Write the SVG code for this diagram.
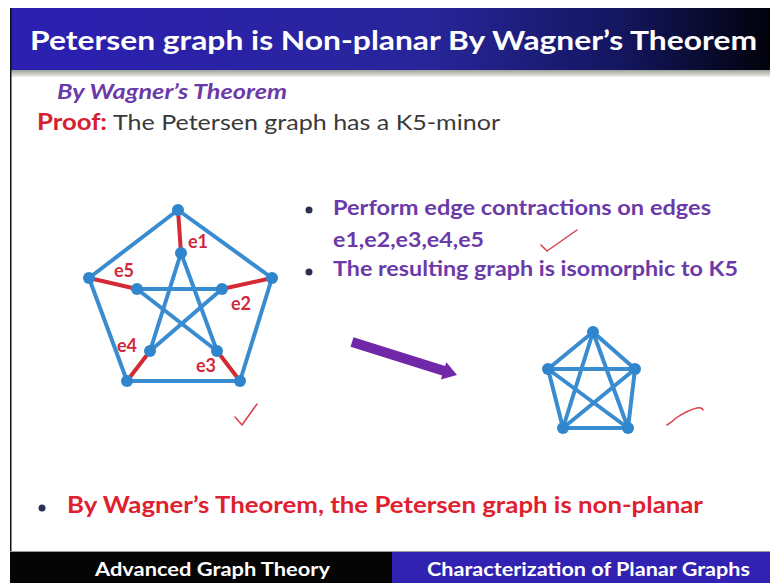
<svg xmlns="http://www.w3.org/2000/svg" width="770" height="583" viewBox="0 0 770 583">
<defs>
<linearGradient id="hdr" x1="0" y1="0" x2="1" y2="0">
<stop offset="0" stop-color="#2c1fb2"/>
<stop offset="0.55" stop-color="#28259a"/>
<stop offset="0.8" stop-color="#141660"/>
<stop offset="1" stop-color="#02020c"/>
</linearGradient>
<linearGradient id="strip" x1="0" y1="0" x2="0" y2="1">
<stop offset="0" stop-color="#9aa29a"/>
<stop offset="1" stop-color="#eef0ea"/>
</linearGradient>
<style>
.t{font-family:Lato,"Liberation Sans",sans-serif}
.e{stroke:#3a8cd0;stroke-width:4;stroke-linecap:round}
.r{stroke:#d42a34;stroke-width:4;stroke-linecap:round}
.v{fill:#2f86cc}
.lbl{font-family:Lato,"Liberation Sans",sans-serif;font-size:18px;font-weight:bold;fill:#d02a3a}
.chk{fill:none;stroke:#d8404a;stroke-width:1.5;stroke-linecap:round;stroke-linejoin:round}
.pur{fill:#6b3aa8;font-size:20px;font-weight:bold}
</style>
</defs>
<rect width="770" height="583" fill="#ffffff"/>
<rect x="11" y="8" width="759" height="62" fill="url(#hdr)"/>
<rect x="11" y="70" width="759" height="7" fill="url(#strip)"/>
<rect x="10" y="8" width="1.5" height="545" fill="#111"/>
<text class="t" x="30" y="50" font-size="27" font-weight="bold" fill="#ffffff" textLength="727" lengthAdjust="spacingAndGlyphs">Petersen graph is Non-planar By Wagner’s Theorem</text>

<text class="t" x="57" y="99" font-size="20" font-weight="bold" font-style="italic" fill="#6b3aa8" textLength="230" lengthAdjust="spacingAndGlyphs">By Wagner’s Theorem</text>
<text class="t" x="37" y="130" font-size="22" font-weight="bold" fill="#d42030" textLength="70" lengthAdjust="spacingAndGlyphs">Proof:</text>
<text class="t" x="113" y="130" font-size="22" fill="#3a3a3a" textLength="387" lengthAdjust="spacingAndGlyphs">The Petersen graph has a K5-minor</text>

<g id="connectors">
<g id="petersen-edges">
<line class="e" x1="178" y1="210" x2="272" y2="278"/>
<line class="e" x1="272" y1="278" x2="240" y2="381"/>
<line class="e" x1="240" y1="381" x2="127" y2="381"/>
<line class="e" x1="127" y1="381" x2="89" y2="278"/>
<line class="e" x1="89" y1="278" x2="178" y2="210"/>
<line class="e" x1="181" y1="253" x2="150" y2="351"/>
<line class="e" x1="181" y1="253" x2="217" y2="351"/>
<line class="e" x1="137" y1="289" x2="222" y2="289"/>
<line class="e" x1="137" y1="289" x2="217" y2="351"/>
<line class="e" x1="222" y1="289" x2="150" y2="351"/>
<line class="r" x1="178" y1="210" x2="181" y2="253"/>
<line class="r" x1="272" y1="278" x2="222" y2="289"/>
<line class="r" x1="240" y1="381" x2="217" y2="351"/>
<line class="r" x1="127" y1="381" x2="150" y2="351"/>
<line class="r" x1="89" y1="278" x2="137" y2="289"/>
</g>
<g id="k5-edges">
<line class="e" x1="593" y1="332" x2="548" y2="369"/>
<line class="e" x1="593" y1="332" x2="635" y2="369"/>
<line class="e" x1="593" y1="332" x2="563" y2="428"/>
<line class="e" x1="593" y1="332" x2="628" y2="428"/>
<line class="e" x1="548" y1="369" x2="635" y2="369"/>
<line class="e" x1="548" y1="369" x2="563" y2="428"/>
<line class="e" x1="548" y1="369" x2="628" y2="428"/>
<line class="e" x1="635" y1="369" x2="563" y2="428"/>
<line class="e" x1="635" y1="369" x2="628" y2="428"/>
<line class="e" x1="563" y1="428" x2="628" y2="428"/>
</g>
<polygon id="arrow" fill="#7028a8" points="353.5,337.2 445.1,366 446.3,362.2 457,375 440.9,379.4 442.1,375.6 350.5,346.8"/>
</g>

<g id="p-outer-top"><circle class="v" cx="178" cy="210" r="6"/></g>
<g id="p-outer-right"><circle class="v" cx="272" cy="278" r="6"/></g>
<g id="p-outer-bright"><circle class="v" cx="240" cy="381" r="6"/></g>
<g id="p-outer-bleft"><circle class="v" cx="127" cy="381" r="6"/></g>
<g id="p-outer-left"><circle class="v" cx="89" cy="278" r="6"/></g>
<g id="p-inner-top"><circle class="v" cx="181" cy="253" r="6"/></g>
<g id="p-inner-right"><circle class="v" cx="222" cy="289" r="6"/></g>
<g id="p-inner-bright"><circle class="v" cx="217" cy="351" r="6"/></g>
<g id="p-inner-bleft"><circle class="v" cx="150" cy="351" r="6"/></g>
<g id="p-inner-left"><circle class="v" cx="137" cy="289" r="6"/></g>

<g id="edge-labels">
<text class="lbl" x="188" y="248">e1</text>
<text class="lbl" x="231" y="310">e2</text>
<text class="lbl" x="196" y="372">e3</text>
<text class="lbl" x="117" y="352">e4</text>
<text class="lbl" x="114" y="277">e5</text>
</g>

<g id="k5-top"><circle class="v" cx="593" cy="332" r="6"/></g>
<g id="k5-left"><circle class="v" cx="548" cy="369" r="6"/></g>
<g id="k5-right"><circle class="v" cx="635" cy="369" r="6"/></g>
<g id="k5-bleft"><circle class="v" cx="563" cy="428" r="6"/></g>
<g id="k5-bright"><circle class="v" cx="628" cy="428" r="6"/></g>

<path class="chk" d="M235,417 L242,425 L257,404"/>
<path class="chk" d="M541,245 L547,251 L577,230"/>
<path class="chk" d="M667,425 Q672,422 676,418 Q688,410 697,408 Q702,407 703,410"/>

<circle cx="309" cy="210" r="3.5" fill="#2a3050"/>
<text class="t pur" x="333" y="215" textLength="378" lengthAdjust="spacingAndGlyphs">Perform edge contractions on edges</text>
<text class="t pur" x="333" y="247" textLength="151" lengthAdjust="spacingAndGlyphs">e1,e2,e3,e4,e5</text>
<circle cx="309" cy="272" r="3.5" fill="#2a3050"/>
<text class="t pur" x="333" y="276" textLength="405" lengthAdjust="spacingAndGlyphs">The resulting graph is isomorphic to K5</text>

<circle cx="42" cy="508" r="3.5" fill="#2a3050"/>
<text class="t" x="67" y="513" font-size="22" font-weight="bold" fill="#e0202e" textLength="636" lengthAdjust="spacingAndGlyphs">By Wagner’s Theorem, the Petersen graph is non-planar</text>

<rect x="10" y="551" width="760" height="1.5" fill="#9a9a9a"/>
<rect x="10" y="552" width="382" height="31" fill="#050505"/>
<rect x="392" y="552" width="378" height="31" fill="#3122b2"/>
<text class="t" x="95" y="576" font-size="19" font-weight="bold" fill="#ffffff" textLength="235" lengthAdjust="spacingAndGlyphs">Advanced Graph Theory</text>
<text class="t" x="427" y="576" font-size="19" font-weight="bold" fill="#ffffff" textLength="323" lengthAdjust="spacingAndGlyphs">Characterization of Planar Graphs</text>
</svg>
